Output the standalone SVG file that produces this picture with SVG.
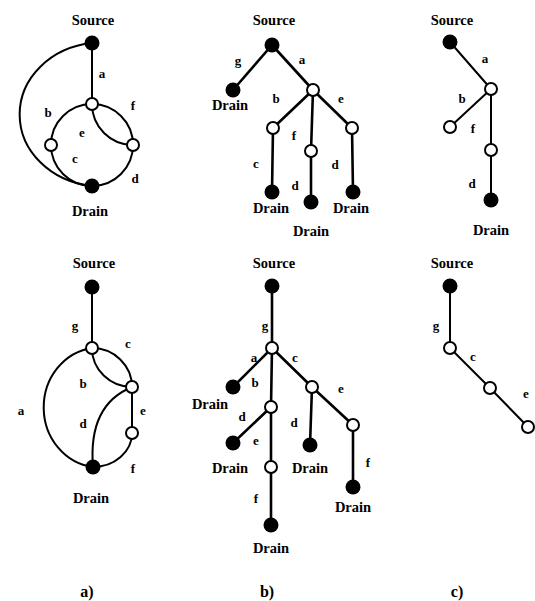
<svg xmlns="http://www.w3.org/2000/svg" width="535" height="601" viewBox="0 0 535 601">
  <style>
    text { font-family: "Liberation Serif", "Times New Roman", serif; font-weight: bold; fill: #000; text-anchor: middle; }
    .term { font-size: 14.5px; }
    .lbl { font-size: 13px; }
    .cap { font-size: 16px; }
    .edge { fill: none; stroke: #000; stroke-width: 2; stroke-linecap: round; }
    .tree { stroke-width: 2.6; }
    .solid { fill: #000; }
    .hollow { fill: #fff; stroke: #000; stroke-width: 2; }
  </style>

  <!-- connectors -->
  <g id="connectors">
    <!-- panel a, upper graph -->
    <path class="edge" d="M92,43 L92,104"/>
    <path class="edge" d="M92,43 A82,72 0 0 0 92,186"/>
    <path class="edge" d="M92,104 A41,41 0 0 0 51,145"/>
    <path class="edge" d="M51,145 A41,41 0 0 0 92,186"/>
    <path class="edge" d="M92,186 A41,41 0 0 0 133,145"/>
    <path class="edge" d="M133,145 A41,41 0 0 0 92,104"/>
    <path class="edge" d="M92,104 A41,41 0 0 0 133,145"/>

    <!-- panel b, upper tree -->
    <path class="edge tree" d="M272,45 L233,90"/>
    <path class="edge tree" d="M272,45 L313,90"/>
    <path class="edge tree" d="M313,90 L273,128"/>
    <path class="edge tree" d="M313,90 L311,151"/>
    <path class="edge tree" d="M313,90 L352,128"/>
    <path class="edge tree" d="M273,128 L272,192"/>
    <path class="edge tree" d="M311,151 L311,202"/>
    <path class="edge tree" d="M352,128 L353,192"/>

    <!-- panel c, upper path -->
    <path class="edge" d="M450,42 L491,89"/>
    <path class="edge" d="M491,89 L450,127"/>
    <path class="edge" d="M491,89 L491,150"/>
    <path class="edge" d="M491,150 L491,200"/>

    <!-- panel a, lower graph -->
    <path class="edge" d="M92,287 L92,348"/>
    <path class="edge" d="M92,348 A56,60 0 0 0 93,467"/>
    <path class="edge" d="M92,348 A40,39 0 0 1 132,387"/>
    <path class="edge" d="M92,348 A40,39 0 0 0 132,387"/>
    <path class="edge" d="M132,387 C100,400 90,430 93,467"/>
    <path class="edge" d="M132,387 L132,433"/>
    <path class="edge" d="M132,433 A39,34 0 0 1 93,467"/>

    <!-- panel b, lower tree -->
    <path class="edge tree" d="M272,286 L272,348"/>
    <path class="edge tree" d="M272,348 L233,387"/>
    <path class="edge tree" d="M272,348 L271,407"/>
    <path class="edge tree" d="M272,348 L312,387"/>
    <path class="edge tree" d="M312,387 L310,445"/>
    <path class="edge tree" d="M312,387 L353,425"/>
    <path class="edge tree" d="M353,425 L353,487"/>
    <path class="edge tree" d="M271,407 L233,443"/>
    <path class="edge tree" d="M271,407 L271,467"/>
    <path class="edge tree" d="M271,467 L271,525"/>

    <!-- panel c, lower path -->
    <path class="edge" d="M450,286 L450,348"/>
    <path class="edge" d="M450,348 L490,388"/>
    <path class="edge" d="M490,388 L528,427"/>
  </g>

  <!-- edge letters -->
  <g id="edge-labels" class="lbl">
    <text x="102" y="78">a</text>
    <text x="48" y="117">b</text>
    <text x="82" y="137">e</text>
    <text x="133" y="110">f</text>
    <text x="75" y="163">c</text>
    <text x="135" y="183">d</text>

    <text x="238" y="65">g</text>
    <text x="302" y="64">a</text>
    <text x="276" y="103">b</text>
    <text x="341" y="103">e</text>
    <text x="294" y="140">f</text>
    <text x="256" y="168">c</text>
    <text x="295" y="190">d</text>
    <text x="335" y="169">d</text>

    <text x="485" y="63">a</text>
    <text x="462" y="103">b</text>
    <text x="473" y="133">f</text>
    <text x="472" y="188">d</text>

    <text x="75" y="330">g</text>
    <text x="128" y="348">c</text>
    <text x="83" y="388">b</text>
    <text x="21" y="415">a</text>
    <text x="83" y="428">d</text>
    <text x="143" y="415">e</text>
    <text x="133" y="473">f</text>

    <text x="265" y="330">g</text>
    <text x="254" y="362">a</text>
    <text x="255" y="387">b</text>
    <text x="295" y="362">c</text>
    <text x="341" y="393">e</text>
    <text x="294" y="427">d</text>
    <text x="242" y="421">d</text>
    <text x="256" y="445">e</text>
    <text x="256" y="503">f</text>
    <text x="368" y="467">f</text>

    <text x="436" y="330">g</text>
    <text x="473" y="361">c</text>
    <text x="526" y="398">e</text>
  </g>

  <!-- panel a, upper graph nodes -->
  <g id="a1-source"><circle class="solid" cx="92" cy="43" r="7.5"/><text class="term" x="93" y="25">Source</text></g>
  <g id="a1-n1"><circle class="hollow" cx="92" cy="104" r="6"/></g>
  <g id="a1-n2"><circle class="hollow" cx="51" cy="145" r="6"/></g>
  <g id="a1-n3"><circle class="hollow" cx="133" cy="145" r="6"/></g>
  <g id="a1-drain"><circle class="solid" cx="92" cy="186" r="7.5"/><text class="term" x="90" y="216">Drain</text></g>

  <!-- panel b, upper tree nodes -->
  <g id="b1-source"><circle class="solid" cx="272" cy="45" r="7.5"/><text class="term" x="274" y="25">Source</text></g>
  <g id="b1-drain-g"><circle class="solid" cx="233" cy="90" r="7.5"/><text class="term" x="230" y="110">Drain</text></g>
  <g id="b1-n-a"><circle class="hollow" cx="313" cy="90" r="6"/></g>
  <g id="b1-n-b"><circle class="hollow" cx="273" cy="128" r="6"/></g>
  <g id="b1-n-f"><circle class="hollow" cx="311" cy="151" r="6"/></g>
  <g id="b1-n-e"><circle class="hollow" cx="352" cy="128" r="6"/></g>
  <g id="b1-drain-c"><circle class="solid" cx="272" cy="192" r="7.5"/><text class="term" x="271" y="213">Drain</text></g>
  <g id="b1-drain-fd"><circle class="solid" cx="311" cy="202" r="7.5"/><text class="term" x="311" y="236">Drain</text></g>
  <g id="b1-drain-ed"><circle class="solid" cx="353" cy="192" r="7.5"/><text class="term" x="351" y="213">Drain</text></g>

  <!-- panel c, upper path nodes -->
  <g id="c1-source"><circle class="solid" cx="450" cy="42" r="7.5"/><text class="term" x="452" y="25">Source</text></g>
  <g id="c1-n-a"><circle class="hollow" cx="491" cy="89" r="6"/></g>
  <g id="c1-n-b"><circle class="hollow" cx="450" cy="127" r="6"/></g>
  <g id="c1-n-f"><circle class="hollow" cx="491" cy="150" r="6"/></g>
  <g id="c1-drain"><circle class="solid" cx="491" cy="200" r="7.5"/><text class="term" x="491" y="235">Drain</text></g>

  <!-- panel a, lower graph nodes -->
  <g id="a2-source"><circle class="solid" cx="92" cy="287" r="7.5"/><text class="term" x="94" y="268">Source</text></g>
  <g id="a2-n1"><circle class="hollow" cx="92" cy="348" r="6"/></g>
  <g id="a2-n2"><circle class="hollow" cx="132" cy="387" r="6"/></g>
  <g id="a2-n3"><circle class="hollow" cx="132" cy="433" r="6"/></g>
  <g id="a2-drain"><circle class="solid" cx="93" cy="467" r="7.5"/><text class="term" x="91" y="503">Drain</text></g>

  <!-- panel b, lower tree nodes -->
  <g id="b2-source"><circle class="solid" cx="272" cy="286" r="7.5"/><text class="term" x="274" y="268">Source</text></g>
  <g id="b2-n-g"><circle class="hollow" cx="272" cy="348" r="6"/></g>
  <g id="b2-drain-a"><circle class="solid" cx="233" cy="387" r="7.5"/><text class="term" x="210" y="409">Drain</text></g>
  <g id="b2-n-b"><circle class="hollow" cx="271" cy="407" r="6"/></g>
  <g id="b2-n-c"><circle class="hollow" cx="312" cy="387" r="6"/></g>
  <g id="b2-drain-cd"><circle class="solid" cx="310" cy="445" r="7.5"/><text class="term" x="310" y="473">Drain</text></g>
  <g id="b2-n-ce"><circle class="hollow" cx="353" cy="425" r="6"/></g>
  <g id="b2-drain-cef"><circle class="solid" cx="353" cy="487" r="7.5"/><text class="term" x="353" y="512">Drain</text></g>
  <g id="b2-drain-bd"><circle class="solid" cx="233" cy="443" r="7.5"/><text class="term" x="230" y="473">Drain</text></g>
  <g id="b2-n-be"><circle class="hollow" cx="271" cy="467" r="6"/></g>
  <g id="b2-drain-bef"><circle class="solid" cx="271" cy="525" r="7.5"/><text class="term" x="271" y="553">Drain</text></g>

  <!-- panel c, lower path nodes -->
  <g id="c2-source"><circle class="solid" cx="450" cy="286" r="7.5"/><text class="term" x="452" y="268">Source</text></g>
  <g id="c2-n-g"><circle class="hollow" cx="450" cy="348" r="6"/></g>
  <g id="c2-n-c"><circle class="hollow" cx="490" cy="388" r="6"/></g>
  <g id="c2-n-e"><circle class="hollow" cx="528" cy="427" r="6"/></g>

  <!-- panel captions -->
  <g id="captions" class="cap">
    <text x="87" y="597">a)</text>
    <text x="267" y="597">b)</text>
    <text x="457" y="597">c)</text>
  </g>
</svg>
